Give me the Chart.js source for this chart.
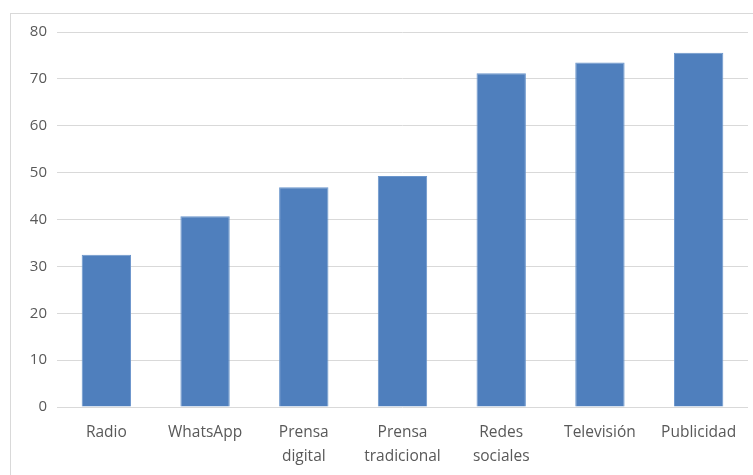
<!DOCTYPE html>
<html><head><meta charset="utf-8">
<script src="https://cdn.jsdelivr.net/npm/chart.js@4/dist/chart.umd.min.js"></script>
<style>
html,body{margin:0;padding:0;background:#fff;}
#wrap{position:relative;width:753px;height:475px;overflow:hidden;}
#frame{position:absolute;left:10px;top:13px;width:800px;height:600px;border:1px solid #D9D9D9;box-sizing:border-box;}
canvas{position:absolute;left:0;top:0;}
</style></head>
<body>
<div id="wrap"><div id="frame"></div><canvas id="c" width="753" height="475"></canvas></div>
<script>
const categories = [["Radio"], ["WhatsApp"], ["Prensa", "digital"], ["Prensa", "tradicional"], ["Redes", "sociales"], ["Televisión"], ["Publicidad"]];
const values = [32.5, 40.7, 46.9, 49.3, 71.2, 73.5, 75.6];
const yTicks = [0, 10, 20, 30, 40, 50, 60, 70, 80];

new Chart(document.getElementById('c'), {
  type: 'bar',
  data: {
    labels: categories,
    datasets: [{
      data: values,
      backgroundColor: '#4F7FBD',
      borderColor: '#6B96CC',
      borderWidth: 1,
      barPercentage: 0.5,
      categoryPercentage: 1.0
    }]
  },
  options: {
    responsive: false,
    animation: false,
    devicePixelRatio: 1,
    layout: { padding: { left: 0, top: 32, right: 5, bottom: 0 } },
    plugins: { legend: { display: false }, tooltip: { enabled: false } },
    scales: {
      x: {
        grid: { display: false },
        border: { display: false },
        ticks: { color: '#595959', font: { family: 'Open Sans', size: 15.5, lineHeight: 1.55 }, padding: 6, maxRotation: 0, autoSkip: false },
        afterFit: s => { s.height = 68; }
      },
      y: {
        min: 0, max: 80,
        afterBuildTicks: s => { s.ticks = yTicks.map(v => ({ value: v })); },
        grid: { color: '#D9D9D9', lineWidth: 1, drawTicks: false },
        border: { display: false },
        ticks: { color: '#595959', font: { family: 'Open Sans', size: 15 }, padding: 10 },
        afterFit: s => { s.width = 57; }
      }
    }
  }
});
</script>
</body></html>
